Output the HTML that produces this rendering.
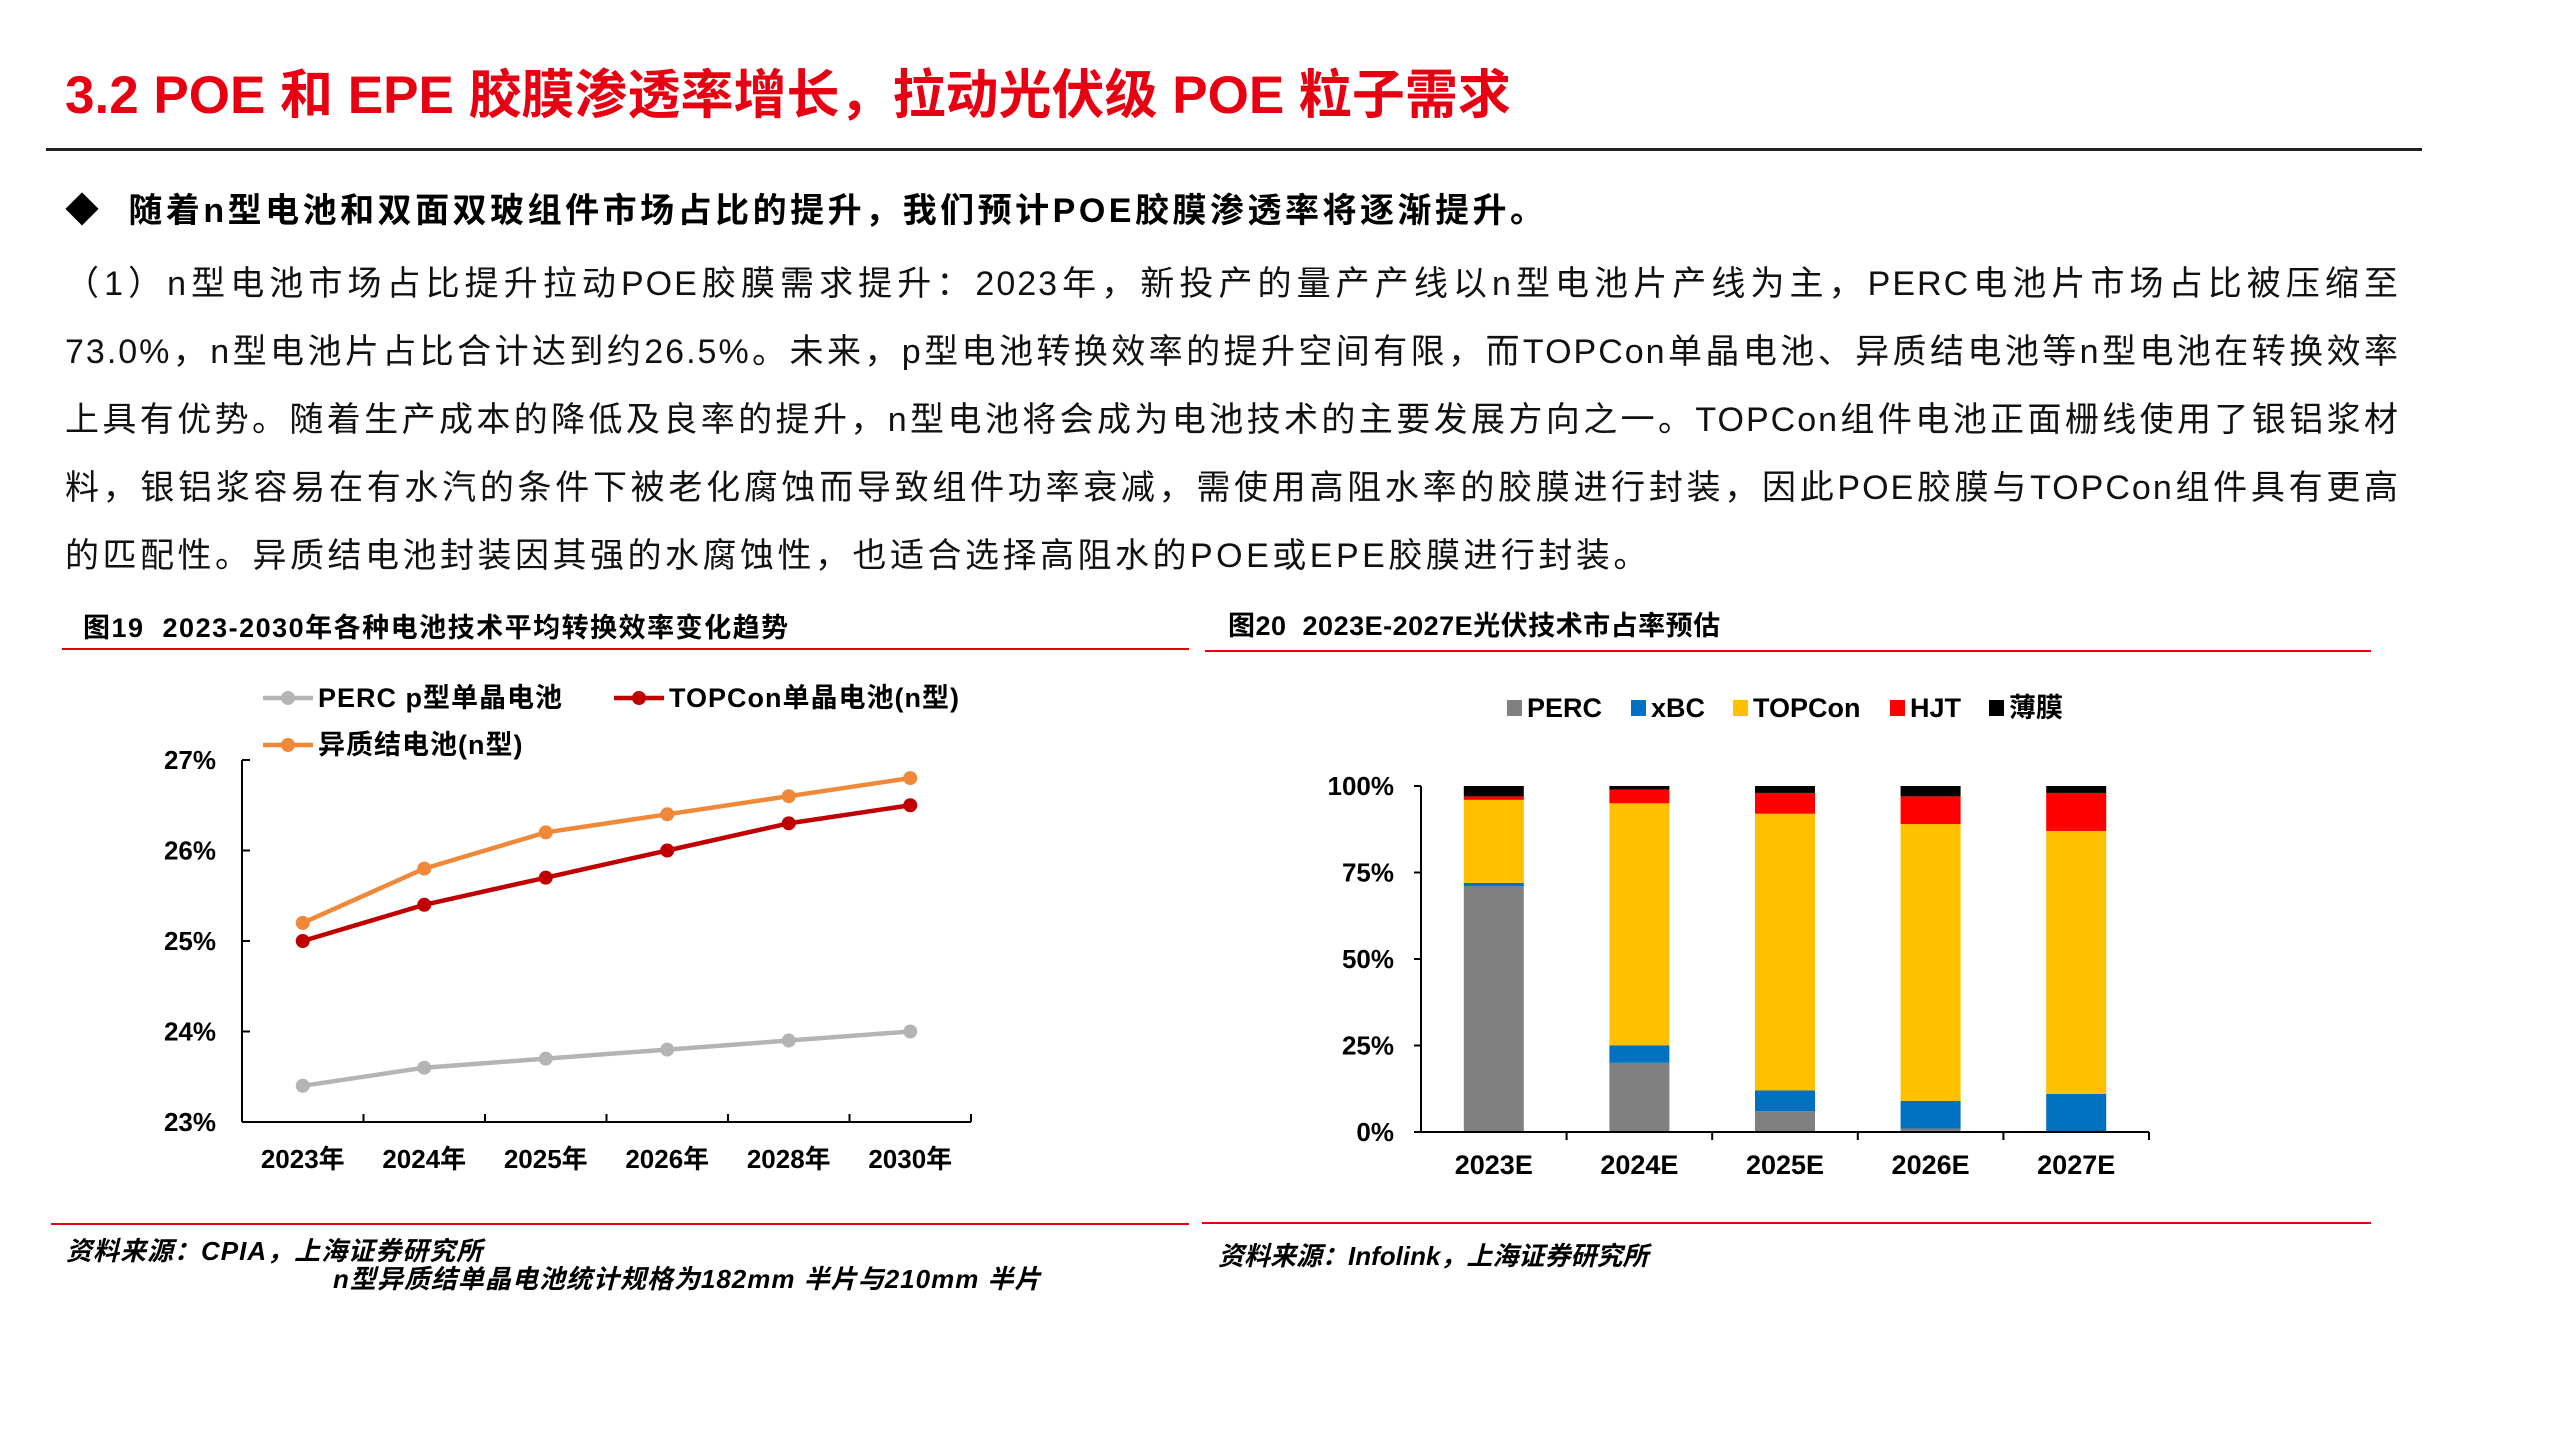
<!DOCTYPE html>
<html><head><meta charset="utf-8">
<style>
html,body{margin:0;padding:0;background:#fff;}
body{width:2560px;height:1440px;position:relative;overflow:hidden;font-family:"Liberation Sans","Noto Sans CJK SC",sans-serif;}
.abs{position:absolute;}
#title{left:65px;top:53px;font-size:53px;font-weight:bold;color:#e60012;white-space:nowrap;}
#rule{left:46px;top:148px;width:2376px;height:3px;background:#222;}
#bullet{left:65px;top:183px;font-size:34px;font-weight:bold;white-space:nowrap;letter-spacing:3.5px;}
.pl{position:absolute;left:65px;width:2335px;font-size:34px;white-space:nowrap;text-align:justify;text-align-last:justify;color:#111;letter-spacing:2px;}
.ct{position:absolute;font-size:27px;font-weight:bold;white-space:nowrap;letter-spacing:1.5px;}
.src{position:absolute;font-size:26px;font-weight:bold;font-style:italic;white-space:nowrap;letter-spacing:1px;}
</style></head>
<body>
<div id="title" class="abs">3.2 POE 和 EPE 胶膜渗透率增长，拉动光伏级 POE 粒子需求</div>
<div id="rule" class="abs"></div>
<div id="bullet" class="abs">◆&nbsp; 随着n型电池和双面双玻组件市场占比的提升，我们预计POE胶膜渗透率将逐渐提升。</div>
<div>
<div class="pl" style="top:256px">（1）n型电池市场占比提升拉动POE胶膜需求提升：2023年，新投产的量产产线以n型电池片产线为主，PERC电池片市场占比被压缩至</div>
<div class="pl" style="top:324px">73.0%，n型电池片占比合计达到约26.5%。未来，p型电池转换效率的提升空间有限，而TOPCon单晶电池、异质结电池等n型电池在转换效率</div>
<div class="pl" style="top:392px">上具有优势。随着生产成本的降低及良率的提升，n型电池将会成为电池技术的主要发展方向之一。TOPCon组件电池正面栅线使用了银铝浆材</div>
<div class="pl" style="top:460px">料，银铝浆容易在有水汽的条件下被老化腐蚀而导致组件功率衰减，需使用高阻水率的胶膜进行封装，因此POE胶膜与TOPCon组件具有更高</div>
<div class="pl" style="top:528px;text-align-last:left;letter-spacing:3.5px">的匹配性。异质结电池封装因其强的水腐蚀性，也适合选择高阻水的POE或EPE胶膜进行封装。</div>
</div>

<div class="ct" style="left:83px;top:606px">图19&nbsp; 2023-2030年各种电池技术平均转换效率变化趋势</div>
<div class="ct" style="left:1228px;top:604px;letter-spacing:0.5px">图20&nbsp; 2023E-2027E光伏技术市占率预估</div>
<div class="src" style="left:66px;top:1231px">资料来源：CPIA，上海证券研究所</div>
<div class="src" style="left:333px;top:1259px">n型异质结单晶电池统计规格为182mm 半片与210mm 半片</div>
<div class="src" style="left:1218px;top:1236px;letter-spacing:0">资料来源：Infolink，上海证券研究所</div>

<svg id="svg" class="abs" style="left:0;top:0" width="2560" height="1440"></svg>

<script>
// Chart 1 data
const lineCats = ["2023年","2024年","2025年","2026年","2028年","2030年"];
const perc = [23.4,23.6,23.7,23.8,23.9,24.0];
const topcon = [25.0,25.4,25.7,26.0,26.3,26.5];
const hjt = [25.2,25.8,26.2,26.4,26.6,26.8];
const lineTicks = [23,24,25,26,27];
const lineTickLabels = ["23%","24%","25%","26%","27%"];
// Chart 2 data
const barCats = ["2023E","2024E","2025E","2026E","2027E"];
const barPerc = [71,20,6,1,0];
const barXbc = [1,5,6,8,11];
const barTopcon = [24,70,80,80,76];
const barHjt = [1,4,6,8,11];
const barThin = [3,1,2,3,2];
const barTicks = [0,25,50,75,100];
const barTickLabels = ["0%","25%","50%","75%","100%"];

const NS="http://www.w3.org/2000/svg";
const svg=document.getElementById('svg');
function mk(tag,attrs,parent){const e=document.createElementNS(NS,tag);for(const k in attrs)e.setAttribute(k,attrs[k]);(parent||svg).appendChild(e);return e;}
const FONT='"Liberation Sans","Noto Sans CJK SC",sans-serif';

let r;
r=mk('line',{x1:62,y1:649,x2:1189,y2:649,stroke:'#e60012','stroke-width':2});

r=mk('line',{x1:1205,y1:651,x2:2371,y2:651,stroke:'#e60012','stroke-width':2});

r=mk('line',{x1:51,y1:1224,x2:1189,y2:1224,stroke:'#e60012','stroke-width':2});

r=mk('line',{x1:1202,y1:1223,x2:2371,y2:1223,stroke:'#e60012','stroke-width':2});


// ---------- Chart 1 ----------
const c1={x0:242,x1:971,yTop:760,yBot:1122,vmin:23,vmax:27};
const band1=(c1.x1-c1.x0)/lineCats.length;
const x1f=i=>c1.x0+band1*(i+0.5);
const y1f=v=>c1.yBot-(v-c1.vmin)/(c1.vmax-c1.vmin)*(c1.yBot-c1.yTop);
const g1=mk('g',{});

let a=mk('line',{x1:c1.x0,y1:c1.yTop,x2:c1.x0,y2:c1.yBot,stroke:'#000','stroke-width':2},g1);

a=mk('line',{x1:c1.x0,y1:c1.yBot,x2:c1.x1,y2:c1.yBot,stroke:'#000','stroke-width':2},g1);

lineTicks.forEach((t,i)=>{
  const y=y1f(t);
  mk('line',{x1:c1.x0,y1:y,x2:c1.x0+8,y2:y,stroke:'#000','stroke-width':2},g1);
  const tx=mk('text',{x:216,y:y+9,'text-anchor':'end','font-size':26,'font-weight':'bold','font-family':FONT},g1);
  tx.textContent=lineTickLabels[i];
  
});
for(let i=1;i<=lineCats.length;i++){const x=c1.x0+band1*i;mk('line',{x1:x,y1:c1.yBot,x2:x,y2:c1.yBot-8,stroke:'#000','stroke-width':2},g1);}
lineCats.forEach((c,i)=>{
  const tx=mk('text',{x:x1f(i),y:1168,'text-anchor':'middle','font-size':26,'font-weight':'bold','font-family':FONT},g1);
  tx.textContent=c;
  
});
function series(vals,color,name){
  const g=mk('g',{},g1);
  
  const pts=vals.map((v,i)=>x1f(i)+','+y1f(v)).join(' ');
  const pl=mk('polyline',{points:pts,fill:'none',stroke:color,'stroke-width':4.5},g);
  
  vals.forEach((v,i)=>{const c=mk('circle',{cx:x1f(i),cy:y1f(v),r:7,fill:color},g);
    });
}
series(perc,'#b4b4b4','perc-series');
series(topcon,'#c00000','topcon-series');
series(hjt,'#f0883a','hjt-series');
function legLine(x,y,color,label,name){
  const g=mk('g',{},g1);
  
  mk('line',{x1:x,y1:y,x2:x+50,y2:y,stroke:color,'stroke-width':4.5},g);
  mk('circle',{cx:x+25,cy:y,r:7,fill:color},g);
  const t=mk('text',{x:x+55,y:y+9,'font-size':27,'font-weight':'bold','font-family':FONT,'letter-spacing':1},g);
  t.textContent=label;
}
legLine(263,698,'#b4b4b4','PERC p型单晶电池','legend-perc');
legLine(614,698,'#c00000','TOPCon单晶电池(n型)','legend-topcon');
legLine(263,745,'#f0883a','异质结电池(n型)','legend-hjt');

// ---------- Chart 2 ----------
const c2={x0:1421,x1:2149,yTop:786,yBot:1132};
const band2=(c2.x1-c2.x0)/barCats.length;
const barW=60;
const y2f=v=>c2.yBot-v/100*(c2.yBot-c2.yTop);
const g2=mk('g',{});

const stacks=[[barPerc,'#808080','perc'],[barXbc,'#0070c0','xbc'],[barTopcon,'#ffc000','topcon'],[barHjt,'#ff0000','hjt'],[barThin,'#000000','thin-film']];
barCats.forEach((c,i)=>{
  let acc=0;const cx=c2.x0+band2*(i+0.5);
  stacks.forEach(([arr,col,nm])=>{
    const v=arr[i];
    if(v>0){const rc=mk('rect',{x:cx-barW/2,y:y2f(acc+v),width:barW,height:y2f(acc)-y2f(acc+v),fill:col},g2);
      }
    acc+=v;
  });
  const tx=mk('text',{x:cx,y:1174,'text-anchor':'middle','font-size':27,'font-weight':'bold','font-family':FONT},g2);
  tx.textContent=c;
  
});
a=mk('line',{x1:c2.x0,y1:c2.yTop,x2:c2.x0,y2:c2.yBot,stroke:'#000','stroke-width':2},g2);

a=mk('line',{x1:c2.x0,y1:c2.yBot,x2:c2.x1,y2:c2.yBot,stroke:'#000','stroke-width':2},g2);

barTicks.forEach((t,i)=>{
  const y=y2f(t);
  mk('line',{x1:c2.x0-7,y1:y,x2:c2.x0,y2:y,stroke:'#000','stroke-width':2},g2);
  const tx=mk('text',{x:1394,y:y+9,'text-anchor':'end','font-size':26,'font-weight':'bold','font-family':FONT},g2);
  tx.textContent=barTickLabels[i];
  
});
for(let i=1;i<=barCats.length;i++){const x=c2.x0+band2*i;mk('line',{x1:x,y1:c2.yBot,x2:x,y2:c2.yBot+8,stroke:'#000','stroke-width':2},g2);}
const legItems=[[1507,'#808080','PERC','legend-perc'],[1631,'#0070c0','xBC','legend-xbc'],[1733,'#ffc000','TOPCon','legend-topcon'],[1890,'#ff0000','HJT','legend-hjt'],[1989,'#000000','薄膜','legend-thin-film']];
legItems.forEach(([x,col,lab,nm])=>{
  const g=mk('g',{},g2);
  
  mk('rect',{x:x,y:700,width:15,height:16,fill:col},g);
  const t=mk('text',{x:x+20,y:717,'font-size':27,'font-weight':'bold','font-family':FONT},g);
  t.textContent=lab;
});
</script>
</body></html>
